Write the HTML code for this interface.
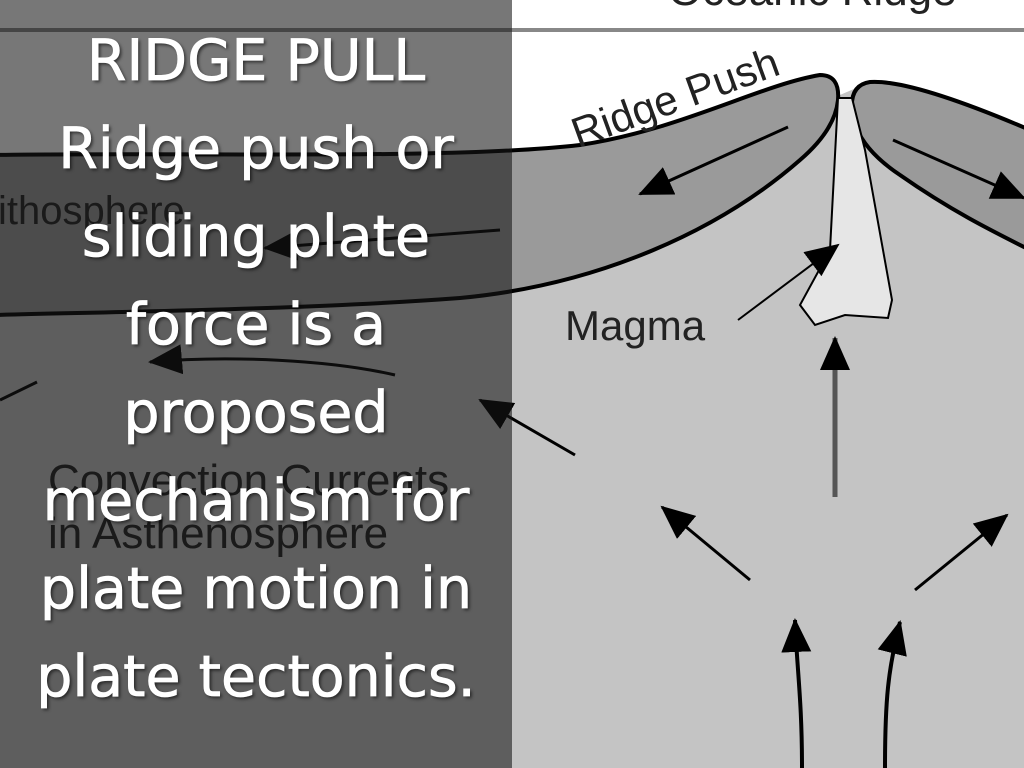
<!DOCTYPE html>
<html><head><meta charset="utf-8"><style>
html,body{margin:0;padding:0;width:1024px;height:768px;overflow:hidden;background:#c4c4c4}
svg{position:absolute;left:0;top:0}
#ov{position:absolute;left:0;top:0;width:512px;height:768px;background:rgba(20,20,20,0.58)}
#txt{position:absolute;left:0;top:17px;width:512px;text-align:center;color:#fff;font-family:"DejaVu Sans","Liberation Sans",sans-serif;font-size:57px;line-height:88px;text-shadow:2px 2px 3px rgba(0,0,0,0.6);-webkit-text-stroke:0.8px #fff}
</style></head><body>
<svg width="1024" height="768" viewBox="0 0 1024 768">
<defs>
<marker id="b" markerWidth="34" markerHeight="30" refX="32" refY="15" orient="auto" markerUnits="userSpaceOnUse"><path d="M0,0 L34,15 L0,30 z" fill="#000"/></marker></defs>
<path d="M0,0 H1024 V135 C960,100 900,80 870,82 L840,95 C800,75 700,120 580,145 C450,160 200,152 0,155 Z" fill="#fff"/>
<line x1="0" y1="30" x2="1024" y2="30" stroke="#888" stroke-width="4"/>
<path d="M-5,155 C200,152 450,160 580,145 C680,130 760,85 820,75 Q840,75 838,100 Q835,130 800,160 C720,230 600,285 460,298 C300,310 100,312 -5,315 Z" fill="#9a9a9a" stroke="#000" stroke-width="4"/>
<path d="M1030,130 C960,100 900,80 870,82 Q850,85 852,110 Q855,145 900,175 C950,210 990,230 1030,250 Z" fill="#9a9a9a" stroke="#000" stroke-width="4"/>
<path d="M838,98 L852,98 L865,150 L892,300 L888,318 L845,315 L815,325 L800,305 L830,250 Z" fill="#e6e6e6" stroke="#000" stroke-width="2"/>
<line x1="788" y1="127" x2="640" y2="194" stroke="#000" stroke-width="3" marker-end="url(#b)"/>
<line x1="893" y1="140" x2="1024" y2="198" stroke="#000" stroke-width="3" marker-end="url(#b)"/>
<line x1="738" y1="320" x2="838" y2="245" stroke="#000" stroke-width="2" marker-end="url(#b)"/>
<line x1="835" y1="497" x2="835" y2="338" stroke="#555" stroke-width="5" marker-end="url(#b)"/>
<line x1="575" y1="455" x2="480" y2="400" stroke="#000" stroke-width="3" marker-end="url(#b)"/>
<line x1="750" y1="580" x2="662" y2="507" stroke="#000" stroke-width="3" marker-end="url(#b)"/>
<line x1="915" y1="590" x2="1007" y2="515" stroke="#000" stroke-width="3" marker-end="url(#b)"/>
<path d="M802,768 C802,700 797,670 795,620" fill="none" stroke="#000" stroke-width="4" marker-end="url(#b)"/>
<path d="M885,768 C885,700 888,670 900,622" fill="none" stroke="#000" stroke-width="4" marker-end="url(#b)"/>
<line x1="500" y1="230" x2="265" y2="248" stroke="#000" stroke-width="3" marker-end="url(#b)"/>
<path d="M395,375 C330,360 230,355 150,362" fill="none" stroke="#000" stroke-width="3" marker-end="url(#b)"/>
<line x1="0" y1="400" x2="37" y2="382" stroke="#000" stroke-width="3"/>
<g font-family="Liberation Sans, sans-serif" fill="#222">
<text x="668" y="5" font-size="44">Oceanic Ridge</text>
<text x="578" y="148" font-size="42" transform="rotate(-20 578 148)">Ridge Push</text>
<text x="565" y="340" font-size="42">Magma</text>
<text x="-2" y="224" font-size="40">ithosphere</text>
<text x="48" y="495" font-size="44">Convection Currents</text>
<text x="48" y="548" font-size="44">in Asthenosphere</text>
</g>
</svg>
<div id="ov"></div>
<div id="txt">RIDGE PULL<br>Ridge push or<br>sliding plate<br>force is a<br>proposed<br>mechanism for<br>plate motion in<br>plate tectonics.</div>
</body></html>
